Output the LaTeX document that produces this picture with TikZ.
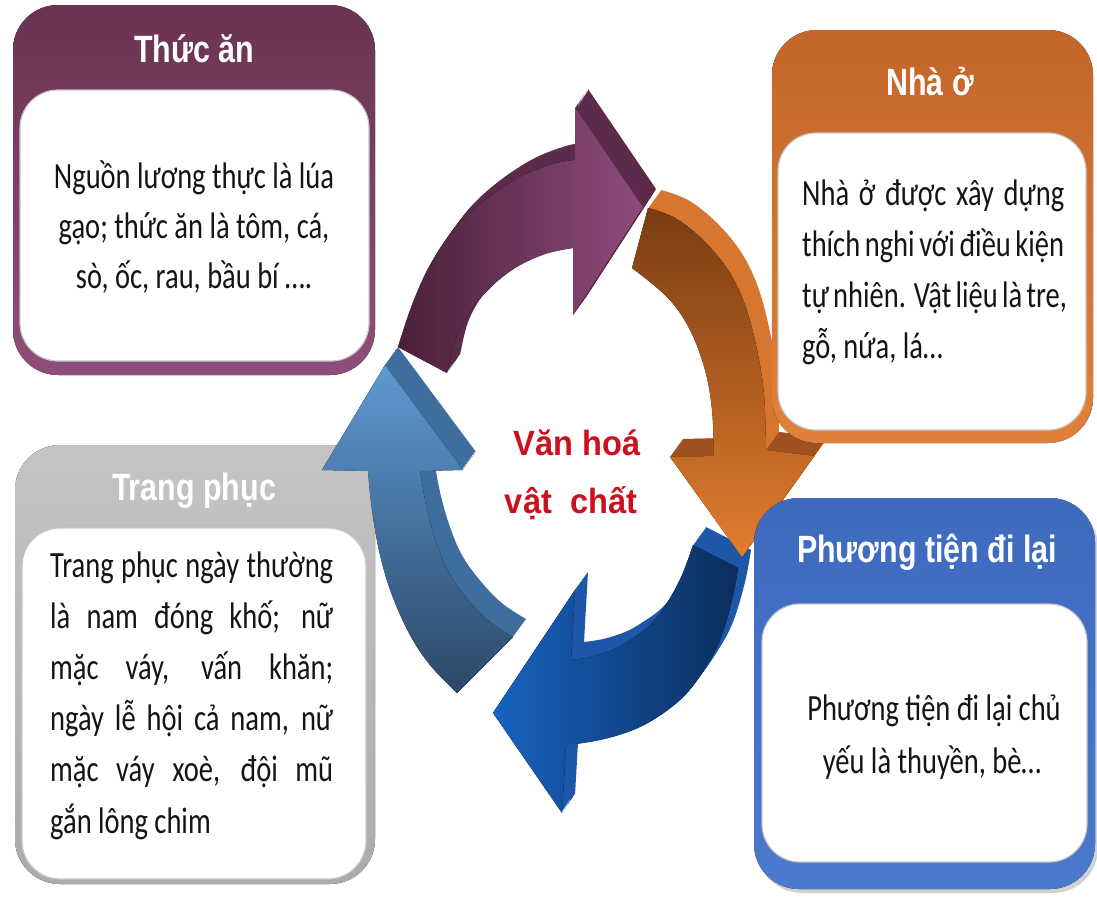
\documentclass[tikz,border=0pt]{standalone}
\usepackage{fontspec}
\setmainfont{Carlito}
\newfontfamily\bodyf{Carlito}[FakeStretch=0.77]
\newfontfamily\headf{Liberation Sans}[FakeStretch=0.8]
\newfontfamily\centf{Liberation Sans}[FakeStretch=0.93]
\definecolor{purA}{HTML}{6A3352}
\definecolor{purB}{HTML}{8E4E78}
\definecolor{oraA}{HTML}{C4662A}
\definecolor{oraB}{HTML}{E0803A}
\definecolor{grA}{HTML}{C4C4C4}
\definecolor{grB}{HTML}{ABABAB}
\definecolor{bluA}{HTML}{3E6ABE}
\definecolor{bluB}{HTML}{4B79CE}
\definecolor{vred}{HTML}{CC101E}
\definecolor{pside}{HTML}{5C2A4A}
\definecolor{pfA}{HTML}{4A1F3A}
\definecolor{pfB}{HTML}{8E4C7C}
\definecolor{oside}{HTML}{D7772F}
\definecolor{oband}{HTML}{9E531E}
\definecolor{ofA}{HTML}{7A3C12}
\definecolor{ofB}{HTML}{E27D2E}
\definecolor{bside}{HTML}{1E57A8}
\definecolor{bfA}{HTML}{1763C0}
\definecolor{bfB}{HTML}{0C2D5C}
\definecolor{lside}{HTML}{3F6E9E}
\definecolor{lfA}{HTML}{5E99D2}
\definecolor{lfB}{HTML}{2C4868}
\tikzset{
  hd/.style={text=white, font=\headf\bfseries\fontsize{38}{40}\selectfont, inner sep=0pt, anchor=base},
  bd/.style={text=black!92, font=\bodyf\fontsize{37}{44}\selectfont, inner sep=0pt, anchor=base},
  bdl/.style={bd, anchor=base west},
  ct/.style={text=vred, font=\centf\bfseries\fontsize{35}{40}\selectfont, inner sep=0pt, anchor=base},
  outbox/.style={rounded corners=45pt},
  inbox/.style={fill=white, draw=black!22, line width=1.2pt, rounded corners=38pt},
}
\def\arrP{plot[smooth,tension=0.6] coordinates {(398,347) (412,305) (430,265) (455,228) (485,200) (520,177) (553,164) (575,160)} -- (575,107) -- (643,207) -- (573,315) -- plot[smooth,tension=0.6] coordinates {(573,248) (545,254) (515,268) (490,288) (470,312) (455,340) (447,373)} -- cycle}
\def\arrO{(632,268) -- plot[smooth,tension=0.6] coordinates {(648,208) (675,218) (703,240) (728,270) (745,305) (757,350) (764,395) (766,450)} -- (814,456) -- (742,557) -- (670,457) -- plot[smooth,tension=0.6] coordinates {(714,456) (712,410) (705,370) (690,330) (668,298) (632,268)} -- cycle}
\def\arrB{(693,545) -- plot[smooth,tension=0.6] coordinates {(738,568) (732,600) (720,640) (705,668) (687,693) (665,712) (640,727) (612,737) (583,743) (566,744)} -- (562,813) -- (493,713) -- (575,590) -- plot[smooth,tension=0.6] coordinates {(571,660) (590,657) (612,650) (630,640) (650,625) (667,603) (682,575) (693,545)} -- cycle}
\def\arrL{(322,470) -- (385,365) -- (463,470) -- plot[smooth,tension=0.6] coordinates {(420,471) (427,510) (437,545) (450,575) (470,602) (490,622) (513,637)} -- plot[smooth,tension=0.6] coordinates {(457,693) (430,665) (410,635) (392,595) (380,555) (372,510) (368,471)} -- cycle}
\begin{document}
\begin{tikzpicture}[x=1pt,y=-1pt]
\useasboundingbox (0,0) rectangle (1097,897);
\fill[white] (0,0) rectangle (1097,897);
% Trang phuc box (under the arrows)
\fill[outbox, top color=grA, bottom color=grB] (15,445) rectangle (375,884);
\filldraw[inbox] (22,528) rectangle (366,879);
% Thuc an box
\fill[outbox, top color=purA, bottom color=purB] (13,5) rectangle (375,375);
\filldraw[inbox] (20,90) rectangle (369,361);
% arrows: light blue
\foreach \k in {1,...,12}{\fill[lside, shift={({\k*13/12},{-\k*18/12})}] \arrL;}
\fill[top color=lfA, bottom color=lfB] \arrL;
% dark blue
\foreach \k in {1,...,12}{\fill[bside, shift={({\k*13/12},{-\k*18/12})}] \arrB;}
\fill[left color=bfA, right color=bfB] \arrB;
% orange
\foreach \k in {1,...,12}{\fill[oside, shift={({\k*13/12},{-\k*18/12})}] \arrO;}
\fill[oband] (670,457) -- (683,439) -- (727,438) -- (714,456) -- cycle;
\fill[oband] (766,450) -- (779,432) -- (827,438) -- (814,456) -- cycle;
\fill[top color=ofA, bottom color=ofB] \arrO;
% purple
\foreach \k in {1,...,12}{\fill[pside, shift={({\k*13/12},{-\k*18/12})}] \arrP;}
\fill[left color=pfA, right color=pfB] \arrP;
% Nha o box
\fill[outbox, top color=oraA, bottom color=oraB] (772,30) rectangle (1093,443);
\filldraw[inbox] (778,133) rectangle (1086,430);
% Phuong tien box
\fill[outbox, black!18] (757,502) rectangle (1098,893);
\fill[outbox, top color=bluA, bottom color=bluB] (754,498) rectangle (1095,889);
\filldraw[inbox] (762,604) rectangle (1087,862);
% headers
\node[hd] (h1) at (194,62) {Thức ăn};
\node[hd] (h2) at (930,95) {Nhà ở};
\node[hd] (h3) at (194,500) {Trang phục};
\node[hd] (h4) at (927,562) {Phương tiện đi lại};
% body: Thuc an
\foreach \txt [count=\i] in {{Nguồn lương thực là lúa},{gạo; thức ăn là tôm, cá,},{sò, ốc, rau, bầu bí ….}}
  \node[bd] (ta\i) at (194,{188+(\i-1)*50}) {\txt};
% body: Nha o
\foreach \txt [count=\i] in {{Nhà ở được xây dựng},{thích nghi với điều kiện},{tự nhiên. Vật liệu là tre,}}
  \node[bdl] (no\i) at (802,{205+(\i-1)*51}) {\makebox[262pt][s]{\txt}};
\node[bdl] (no4) at (802,358) {gỗ, nứa, lá…};
% body: Trang phuc
\foreach \txt [count=\i] in {{Trang phục ngày thường},{là nam đóng khố; nữ},{mặc váy, vấn khăn;},{ngày lễ hội cả nam, nữ},{mặc váy xoè, đội mũ}}
  \node[bdl] (tp\i) at (50,{577+(\i-1)*51.2}) {\makebox[283pt][s]{\txt}};
\node[bdl] (tp6) at (50,833) {gắn lông chim};
% body: Phuong tien
\node[bd] (pt1) at (934,720) {Phương tiện đi lại chủ};
\node[bd] (pt2) at (932,773) {yếu là thuyền, bè…};
% centre
\node[ct] (c1) at (577,455) {Văn hoá};
\node[ct] (c2) at (571,513) {vật\ \ chất};
\end{tikzpicture}
\end{document}
